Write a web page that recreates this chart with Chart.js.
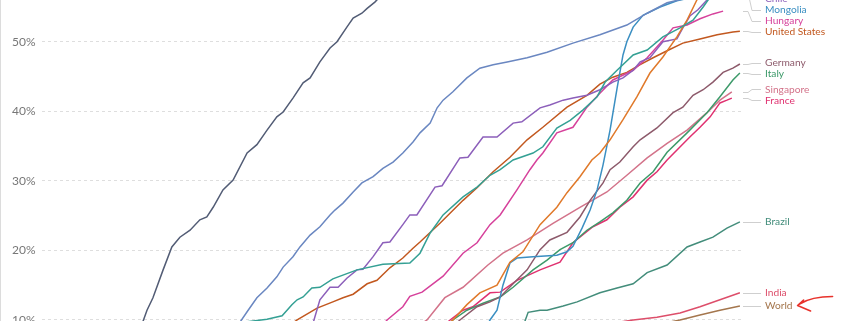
<!DOCTYPE html>
<html>
<head>
<meta charset="utf-8">
<script src="https://cdn.jsdelivr.net/npm/chart.js@4.4.1/dist/chart.umd.min.js"></script>
<style>
  html, body { margin: 0; padding: 0; background: #fff; }
  canvas { display: block; }
</style>
</head>
<body>
<canvas id="chart" width="845" height="321"></canvas>
<script>
// share of people with at least one dose (%), x = days since start of the chart
var yTickValues = [10, 20, 30, 40, 50];

var israelDays = [28, 30, 31.7, 34.6, 37.1, 39.4, 42.3, 45.1, 47.1, 48.9, 51.7, 54.6, 58.6, 61.4, 64.3, 67.1, 68.9, 71.7, 74.6, 76.6, 79.4, 82.3, 84.3, 87.1, 88.9, 91.4, 92.9, 95.1, 98];
var israelShare = [8.6, 11.4, 13.2, 17.2, 20.5, 21.9, 22.9, 24.4, 24.8, 26.2, 28.7, 30.1, 34.0, 35.2, 37.3, 39.2, 39.9, 41.9, 44.1, 44.8, 47.1, 49.1, 50.0, 52.1, 53.4, 54.1, 54.8, 55.7, 57.2];

var ukDays = [55.1, 58.9, 61.4, 64.3, 67.1, 68.9, 71.7, 73.7, 76.6, 79.4, 82.3, 83.7, 86.0, 88.9, 91.4, 94.6, 97.4, 100.3, 103.1, 106, 108, 110.9, 112.9, 114.6, 117.4, 121.4, 125.1, 128.9, 132.9, 138.6, 144.3, 151.7, 159.4, 167.1, 172.9, 178.6, 185.1, 189.4];
var ukShare = [8.6, 11.4, 13.2, 14.6, 16.2, 17.6, 19.1, 20.5, 22.2, 23.4, 25.1, 25.8, 26.8, 28.4, 29.7, 30.6, 31.8, 32.7, 34.0, 35.6, 36.9, 38.3, 40.5, 41.6, 42.8, 44.8, 46.2, 46.7, 47.1, 47.7, 48.5, 49.8, 51.0, 52.4, 54.1, 55.6, 56.4, 56.9];

var mongoliaDays = [126.6, 128, 130, 131.7, 133.7, 135.7, 140.3, 147.1, 150, 151.7, 154.3, 156.6, 158.6, 160.3, 162.3, 164.3, 166, 167.1, 168.9, 171.7, 176.6, 181.4, 188, 199.4];
var mongoliaShare = [8.6, 10.0, 11.4, 15.0, 18.2, 18.9, 19.1, 19.3, 19.8, 20.6, 23.2, 25.8, 28.7, 32.3, 37.3, 43.3, 48.1, 50.0, 52.1, 53.8, 55.0, 55.9, 56.6, 57.2];

var chileDays = [76.9, 79.4, 82.3, 84.6, 87.1, 90, 91.7, 94.6, 97.4, 99.4, 103.1, 105.1, 107.1, 112.3, 114.3, 119.4, 121.7, 126, 130, 134.6, 137.1, 142.3, 145.1, 148.9, 151.7, 155.7, 159.4, 163.1, 166, 168.9, 170.9, 173.7, 177.4, 181.4, 183.1, 185.1, 187.4, 190, 193.7];
var chileShare = [8.6, 12.9, 14.7, 14.7, 16.0, 17.2, 17.3, 19.1, 21.1, 21.2, 23.7, 25.1, 25.1, 29.1, 29.3, 33.3, 33.4, 36.3, 36.3, 38.3, 38.5, 40.5, 40.9, 41.6, 41.9, 42.3, 43.1, 44.2, 44.8, 45.9, 47.1, 47.7, 50.0, 50.4, 52.0, 53.7, 54.6, 56.0, 57.2];

var uruguayDays = [53.7, 58, 64.3, 68.6, 71.4, 72.9, 74.6, 77.1, 79.4, 83.1, 90, 97.4, 105.1, 108, 110.9, 114.6, 120.3, 124.3, 128, 130.9, 134.6, 140.3, 143.1, 147.1, 150.9, 154.6, 158.6, 160.9, 164.3, 168.9, 172.9, 177.4, 182.3, 186, 188.9, 190.3, 192.3];
var uruguayShare = [9.5, 9.7, 10.1, 10.6, 12.2, 12.9, 13.3, 14.6, 14.7, 15.9, 17.2, 18.0, 18.2, 19.6, 22.5, 25.1, 27.7, 29.1, 30.8, 31.6, 33.0, 34.0, 34.9, 37.6, 38.7, 40.2, 42.1, 44.2, 45.9, 48.1, 48.8, 50.7, 52.0, 53.1, 55.0, 56.0, 57.2];

var usDays = [70.9, 72.9, 78.6, 83.1, 86, 88.9, 92.9, 95.7, 99.4, 103.1, 106, 108, 113.7, 120.3, 124.3, 128.9, 133.7, 138.6, 143.1, 150, 155.7, 159.4, 163.1, 167.1, 170.9, 174.6, 178.6, 183.1, 188, 192.9, 197.4, 199.4];
var usShare = [9.3, 10.0, 11.7, 12.6, 13.2, 13.7, 15.2, 15.7, 17.5, 18.9, 20.3, 21.2, 23.9, 27.2, 29.0, 31.3, 33.4, 35.9, 37.7, 40.6, 42.3, 43.9, 44.9, 45.6, 46.7, 47.7, 48.7, 49.8, 50.4, 51.0, 51.4, 51.5];

var hungaryDays = [97.4, 98.6, 103.1, 105.1, 108.6, 114.6, 120.3, 124.3, 128, 130.9, 135.7, 139.4, 141.4, 143.1, 147.1, 151.7, 155.7, 159.4, 163.1, 168.9, 172.9, 177.4, 180.3, 184.3, 188, 191.7, 194.6];
var hungaryShare = [9.3, 10.0, 11.9, 13.4, 14.0, 16.3, 19.6, 21.1, 23.7, 25.1, 28.7, 31.6, 33.0, 34.0, 36.9, 37.7, 40.6, 42.6, 44.5, 45.9, 47.7, 50.2, 52.0, 52.4, 53.3, 54.0, 54.4];

var canadaDays = [115.7, 117.4, 121.4, 125.1, 130, 133.7, 137.4, 142.3, 147.1, 150, 153.7, 157.1, 159.4, 162.3, 166, 170, 173.7, 177.4, 181.4, 184.3, 187.1, 189.4];
var canadaShare = [9.3, 10.0, 12.2, 13.9, 15.0, 18.3, 19.8, 23.7, 26.2, 28.3, 30.6, 33.0, 34.0, 35.9, 38.8, 42.1, 45.5, 47.8, 50.7, 53.1, 56.0, 57.7];

var singaporeDays = [108, 110, 115.1, 120.3, 127.4, 131.7, 138.6, 146, 153.7, 161.4, 167.1, 172.9, 178.6, 184.3, 190, 193.7, 197.1];
var singaporeShare = [9.3, 10.0, 13.2, 14.7, 17.9, 19.6, 21.5, 23.9, 26.2, 28.4, 30.8, 33.3, 35.4, 37.3, 39.8, 41.6, 42.8];

var germanyDays = [118, 119.4, 124.3, 128, 130.9, 134.6, 138.6, 142.3, 145.1, 150, 153.7, 156.6, 160.3, 162.3, 165.1, 168.9, 170.9, 175.7, 180.3, 183.1, 186, 188.9, 191.7, 194.6, 197.4, 199.4];
var germanyShare = [9.3, 10.0, 11.9, 12.6, 13.3, 15.2, 17.2, 20.1, 21.5, 22.6, 24.8, 27.2, 29.7, 31.6, 32.7, 34.9, 35.9, 37.6, 39.8, 40.6, 42.3, 43.1, 44.2, 45.6, 46.2, 46.8];

var italyDays = [116, 117.4, 121.4, 126, 130.9, 134.6, 140.3, 144.3, 148, 151.7, 155.7, 159.4, 163.1, 167.1, 170.9, 174.6, 178.6, 184.3, 190, 193.7, 197.4, 199.4];
var italyShare = [9.3, 10.0, 11.4, 12.4, 13.3, 14.7, 17.2, 18.6, 20.1, 21.1, 22.9, 24.1, 25.4, 27.2, 29.7, 31.3, 34.1, 36.9, 39.8, 42.1, 44.5, 45.5];

var franceDays = [115.1, 116.6, 120.3, 123.1, 128, 130.9, 135.7, 142.3, 148, 151.7, 157.4, 161.4, 165.1, 168.9, 172.9, 175.7, 178.6, 185.1, 188, 190.9, 193.7, 195.7, 197.1];
var franceShare = [9.3, 10.0, 11.4, 11.9, 13.9, 14.0, 15.7, 17.2, 18.3, 21.1, 23.4, 24.4, 26.2, 27.7, 30.1, 31.3, 33.0, 36.3, 37.7, 39.2, 41.2, 41.6, 41.9];

var brazilDays = [137.4, 138, 138.9, 142.3, 144.3, 148.9, 152.9, 159.4, 164.3, 168.9, 172.9, 178.6, 184.3, 188, 191.7, 195.7, 199.4];
var brazilShare = [8.6, 9.85, 11.1, 11.4, 11.4, 12.0, 12.6, 13.9, 14.6, 15.2, 16.8, 17.9, 20.5, 21.2, 21.9, 23.2, 24.1];

var indiaDays = [165.1, 168.9, 175.7, 182.3, 188, 193.7, 199.4];
var indiaShare = [9.7, 10.0, 10.4, 11.0, 11.9, 12.9, 13.9];

var worldDays = [179.4, 182.3, 188, 193.7, 199.4];
var worldShare = [9.7, 10.0, 10.7, 11.4, 12.0];

var series = [
  { name: 'Israel', days: israelDays, share: israelShare, color: '#525c75', label: false },
  { name: 'United Kingdom', days: ukDays, share: ukShare, color: '#6a87c1', label: false },
  { name: 'Uruguay', days: uruguayDays, share: uruguayShare, color: '#34a094', label: false },
  { name: 'Canada', days: canadaDays, share: canadaShare, color: '#e0792a', label: false },
  { name: 'Chile', days: chileDays, share: chileShare, color: '#8c5fba', label: true },
  { name: 'Mongolia', days: mongoliaDays, share: mongoliaShare, color: '#3b8fc2', label: true },
  { name: 'Hungary', days: hungaryDays, share: hungaryShare, color: '#d6419b', label: true },
  { name: 'United States', days: usDays, share: usShare, color: '#c2581f', label: true },
  { name: 'Germany', days: germanyDays, share: germanyShare, color: '#8d5a6b', label: true },
  { name: 'Italy', days: italyDays, share: italyShare, color: '#3d9a6a', label: true },
  { name: 'Singapore', days: singaporeDays, share: singaporeShare, color: '#d3738a', label: true },
  { name: 'France', days: franceDays, share: franceShare, color: '#e03170', label: true },
  { name: 'Brazil', days: brazilDays, share: brazilShare, color: '#438d7b', label: true },
  { name: 'India', days: indiaDays, share: indiaShare, color: '#dd4e6a', label: true },
  { name: 'World', days: worldDays, share: worldShare, color: '#a4764d', label: true }
];

var labelFont = '10.2px Lato';

var endLabels = {
  id: 'endLabels',
  afterDraw: function (chart) {
    var ctx = chart.ctx;
    var area = chart.chartArea;
    var ys = chart.scales.y;

    // left border of the frame
    ctx.save();
    ctx.strokeStyle = '#dcdcdc';
    ctx.lineWidth = 1;
    ctx.beginPath();
    ctx.moveTo(0.5, 0);
    ctx.lineTo(0.5, chart.height);
    ctx.stroke();

    // work out label positions from line ends, pushing overlapping ones apart
    var items = [];
    chart.data.datasets.forEach(function (ds) {
      if (!ds.showLabel) return;
      var last = ds.data[ds.data.length - 1];
      var ey = ys.getPixelForValue(last.y);
      items.push({ text: ds.label, color: ds.borderColor, endY: ey, y: ey });
    });
    items.sort(function (a, b) { return a.endY - b.endY; });
    var gap = 11, top = -1;
    for (var it = 0; it < 200; it++) {
      items.forEach(function (o) { if (o.y < top) o.y = top; });
      for (var i = 1; i < items.length; i++) {
        var d = items[i].y - items[i - 1].y;
        if (d < gap) {
          var push = (gap - d) / 2;
          items[i - 1].y -= push;
          items[i].y += push;
        }
      }
    }
    items.forEach(function (o) { if (o.y < top) o.y = top; });

    var x0 = area.right + 1;
    ctx.font = labelFont;
    ctx.textBaseline = 'middle';
    ctx.textAlign = 'left';
    items.forEach(function (o) {
      ctx.strokeStyle = '#cfcfcf';
      ctx.lineWidth = 1;
      ctx.beginPath();
      ctx.moveTo(x0, Math.round(o.endY) + 0.5);
      ctx.lineTo(x0 + 5, Math.round(o.endY) + 0.5);
      ctx.lineTo(x0 + 9, Math.round(o.y) + 0.5);
      ctx.lineTo(x0 + 18, Math.round(o.y) + 0.5);
      ctx.stroke();
      ctx.fillStyle = o.color;
      ctx.fillText(o.text, x0 + 22, o.y);

      if (o.text === 'World') {
        // red hand-drawn arrow pointing at the World label
        var tx = x0 + 22 + ctx.measureText(o.text).width + 5;
        var ty = o.y - 0.5;
        ctx.strokeStyle = '#e8322b';
        ctx.lineWidth = 1.6;
        ctx.lineCap = 'round';
        ctx.lineJoin = 'round';
        ctx.beginPath();
        ctx.moveTo(tx + 6, ty - 5.5);
        ctx.lineTo(tx, ty);
        ctx.lineTo(tx + 13, ty + 5.5);
        ctx.moveTo(tx + 2, ty - 1.5);
        ctx.quadraticCurveTo(tx + 14, ty - 9, tx + 35, ty - 9);
        ctx.stroke();
      }
    });
    ctx.restore();
  }
};

var datasets = series.map(function (s) {
  return {
    label: s.name,
    data: s.days.map(function (d, i) { return { x: d, y: s.share[i] }; }),
    borderColor: s.color,
    backgroundColor: s.color,
    borderWidth: 1.5,
    pointRadius: 0,
    tension: 0,
    fill: false,
    showLabel: s.label
  };
});

new Chart(document.getElementById('chart'), {
  type: 'line',
  data: { datasets: datasets },
  options: {
    responsive: false,
    animation: false,
    devicePixelRatio: 1,
    layout: { padding: { left: 12, right: 103, top: 0, bottom: 0 } },
    plugins: { legend: { display: false }, tooltip: { enabled: false } },
    scales: {
      x: { type: 'linear', min: 0, max: 200, display: false },
      y: {
        type: 'linear',
        min: 9.85,
        max: 56,
        afterBuildTicks: function (scale) {
          scale.ticks = yTickValues.map(function (v) { return { value: v }; });
        },
        afterFit: function (scale) {
          scale.width = 30;
          scale.paddingTop = 0;
          scale.paddingBottom = 0;
        },
        grid: { color: '#dedede', drawTicks: false, lineWidth: 1 },
        border: { display: false, dash: [3, 3] },
        ticks: {
          crossAlign: 'far',
          padding: 0,
          color: '#777',
          font: { family: 'Lato', size: 12 },
          callback: function (v) { return v + '%'; }
        }
      }
    }
  },
  plugins: [endLabels]
});
</script>
</body>
</html>
